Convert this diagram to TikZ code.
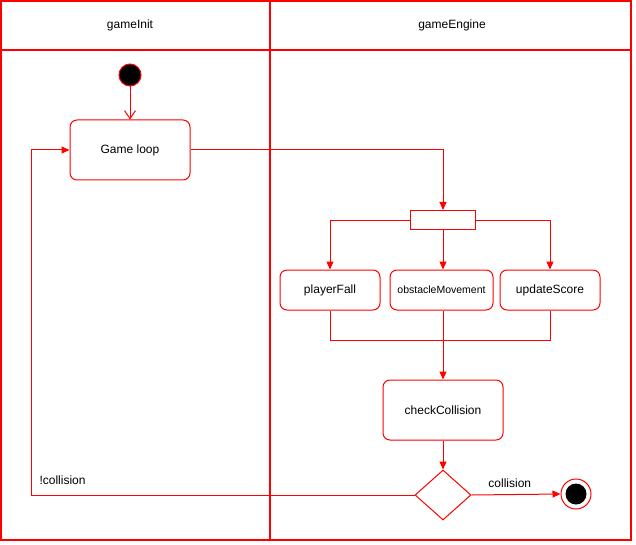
\documentclass[tikz,border=0pt]{standalone}
\usepackage{fontspec}
\setmainfont{Liberation Sans}
\usetikzlibrary{positioning,arrows.meta,shapes.geometric}
\tikzstyle{diagram} = [x = 1pt, y = -1pt, every node/.style={font=\fontsize{12}{14}\selectfont}]
\definecolor{lineColor}{RGB}{255,0,0}
\tikzstyle{laneLine} = [color=lineColor, line width=1.2pt]
\tikzstyle{activityStyle} = [draw=lineColor, fill=white, rounded corners=7pt, line width=1pt, minimum width=120pt, minimum height=60pt, inner sep=0pt]
\tikzstyle{smallActivityStyle} = [activityStyle, minimum width=100pt, minimum height=40pt]
\tikzstyle{flowLine} = [color=lineColor, line width=1pt, -{Triangle[length=8pt,width=7pt]}]
\tikzstyle{joinLine} = [color=lineColor, line width=1pt]
\tikzstyle{laneText} = [text=black]

\begin{document}
\begin{tikzpicture}[diagram]
  \useasboundingbox (0,0) rectangle (636,545);
  % swimlanes
  \draw [laneLine] (1,1) rectangle (631,540);
  \draw [laneLine] (1,50) -- (631,50);
  \draw [laneLine] (270,1) -- (270,540);
  \node [laneText] (initTitle) at (130,25) {gameInit};
  \node [laneText] (engineTitle) at (452,25) {gameEngine};

  % start and loop
  \node [circle, draw=lineColor, fill=black, line width=1pt, minimum size=22pt, inner sep=0pt] (start) at (130,75) {};
  \node [activityStyle] (gameLoop) at (130,150) {Game loop};
  \draw [color=lineColor, line width=1pt, -{Straight Barb[length=8pt,width=11pt]}] (start) -- (gameLoop);

  % fork
  \node [draw=lineColor, line width=1pt, fill=white, minimum width=65pt, minimum height=19pt, inner sep=0pt] (fork) at (443,220) {};
  \draw [flowLine] (gameLoop.east) -| (fork.north);

  \node [smallActivityStyle] (playerFall) at (330,290) {playerFall};
  \node [smallActivityStyle, minimum width=103pt, font=\fontsize{10.5}{12}\selectfont] (obstacleMovement) at (441.5,290) {obstacleMovement};
  \node [smallActivityStyle] (updateScore) at (550,290) {updateScore};
  \draw [flowLine] (fork.west) -| (playerFall.north);
  \draw [flowLine] (fork.south) -- (fork.south |- obstacleMovement.north);
  \draw [flowLine] (fork.east) -| (updateScore.north);

  % join
  \node [activityStyle] (checkCollision) at (443,410) {checkCollision};
  \coordinate (joinLeft) at (330,340);
  \coordinate (joinRight) at (550,340);
  \draw [joinLine] (playerFall.south) -- (joinLeft) -- (joinRight) -- (updateScore.south);
  \draw [flowLine] (obstacleMovement.south -| checkCollision.north) -- (checkCollision.north);

  % decision
  \node [diamond, draw=lineColor, fill=white, line width=1pt, minimum width=56pt, minimum height=50pt, inner sep=0pt, aspect=1.12] (decision) at (443,495) {};
  \draw [flowLine] (checkCollision) -- (decision);
  \node [circle, draw=lineColor, fill=white, line width=1pt, minimum size=30pt, inner sep=0pt] (finish) at (576,494) {};
  \node [circle, fill=black, minimum size=21pt, inner sep=0pt] (finishDot) at (finish) {};
  \draw [flowLine] (decision.east) -- (finish.west) node [laneText, pos=0.43, above=3pt] (yesLabel) {collision};
  \coordinate (loopCorner) at (31,495);
  \draw [flowLine] (decision.west) -- (loopCorner) |- (gameLoop.west);
  \node [laneText, anchor=south west] (noLabel) at (36,488) {!collision};
\end{tikzpicture}
\end{document}
